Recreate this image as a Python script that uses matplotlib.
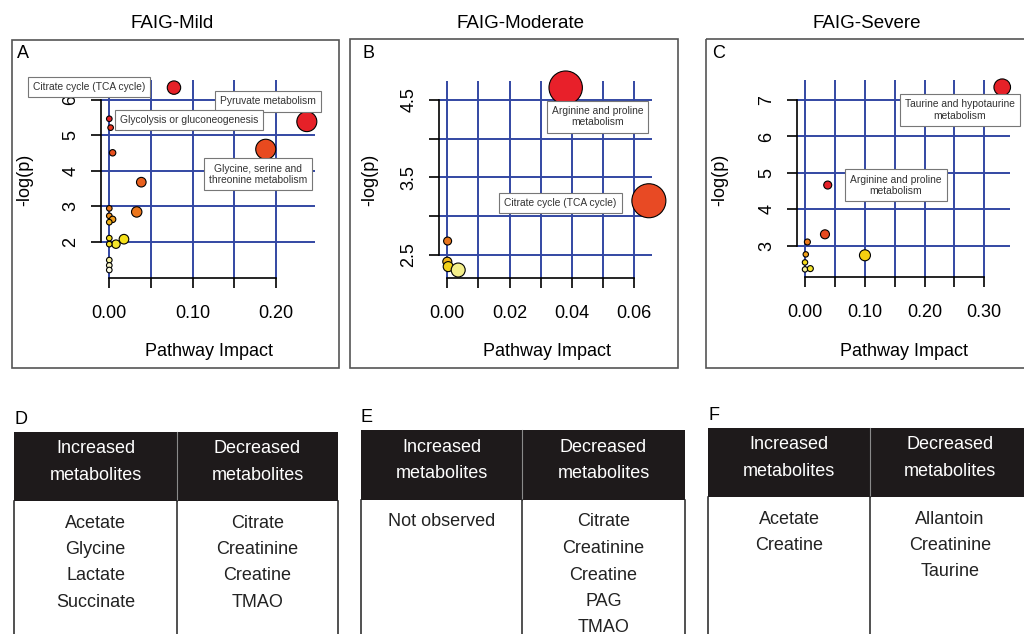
import matplotlib
matplotlib.use('Agg')
import matplotlib.pyplot as plt
from matplotlib import font_manager
from matplotlib.patches import Rectangle

W, H = 1024, 634
plt.rcParams['font.family'] = ['Liberation Sans', 'DejaVu Sans']
_names = {f.name for f in font_manager.fontManager.ttflist}
HAS_NARROW = 'Liberation Sans Narrow' in _names
NARROW = ['Liberation Sans Narrow', 'Liberation Sans'] if HAS_NARROW else ['Liberation Sans']
TSIZE = 14 if HAS_NARROW else 13
GRID = '#3347a3'

# ---- data: panel A (FAIG-Mild)
impact_a = [0.0776, 0.237, 0.1877, 0.0384, 0.0329, 0.0176, 0.008, 0.0, 0.0016, 0.004,
            0.0, 0.0, 0.004, 0.0, 0.0, 0.0, 0.0, 0.0, 0.0]
logp_a = [6.35, 5.39, 4.61, 3.68, 2.84, 2.07, 1.93, 5.47, 5.22, 4.51,
          2.94, 2.73, 2.63, 2.55, 2.10, 1.93, 1.48, 1.33, 1.20]
radius_a = [6.7, 10, 10, 4.8, 5.2, 4.8, 4.2, 2.8, 2.8, 3.2, 2.8, 2.8, 3.2, 2.8, 2.8, 2.8, 2.8, 2.8, 2.8]
color_a = ['#e62128', '#e62128', '#e84a1f', '#e8601e', '#ec761c', '#f5e01a', '#f5e62c', '#e62128',
           '#e8351f', '#e8501e', '#ec7a1c', '#ef8f1a', '#f09a1a', '#f2b41a', '#f5dc18', '#f5e020',
           '#f7f2a0', '#fbf8d0', '#fdfce8']
notes_a = [('Citrate cycle (TCA cycle)', -0.0244, 6.37),
           ('Pyruvate metabolism', 0.1904, 5.96),
           ('Glycolysis or gluconeogenesis', 0.0956, 5.44),
           ('Glycine, serine and\nthreonine metabolism', 0.1785, 3.90)]

# ---- data: panel B (FAIG-Moderate)
impact_b = [0.038, 0.0647, 0.0001, 0.0, 0.0003, 0.0035]
logp_b = [4.659, 3.20, 2.68, 2.414, 2.35, 2.306]
radius_b = [16.7, 17, 4, 4.5, 5, 7]
color_b = ['#e8202a', '#e84a24', '#e8751e', '#f0b41a', '#f2d21a', '#f4ef8a']
notes_b = [('Arginine and proline\nmetabolism', 0.0482, 4.285),
           ('Citrate cycle (TCA cycle)', 0.0363, 3.167)]

# ---- data: panel C (FAIG-Severe)
impact_c = [0.330, 0.038, 0.0334, 0.1003, 0.004, 0.0013, 0.0, 0.0, 0.0089]
logp_c = [7.35, 4.67, 3.32, 2.745, 3.11, 2.77, 2.55, 2.36, 2.38]
radius_c = [8.3, 4, 4.5, 5.5, 3, 2.7, 2.7, 2.7, 3]
color_c = ['#e62128', '#e62128', '#e84a1f', '#f5d010', '#ec7a1c', '#f0a01a', '#f5dc18',
           '#f7f2a0', '#f5e62c']
notes_c = [('Taurine and hypotaurine\nmetabolism', 0.259, 6.73),
           ('Arginine and proline\nmetabolism', 0.152, 4.66)]

# ---- data: tables
inc_d = ['Acetate', 'Glycine', 'Lactate', 'Succinate']
dec_d = ['Citrate', 'Creatinine', 'Creatine', 'TMAO']
inc_e = ['Not observed']
dec_e = ['Citrate', 'Creatinine', 'Creatine', 'PAG', 'TMAO']
inc_f = ['Acetate', 'Creatine']
dec_f = ['Allantoin', 'Creatinine', 'Taurine']

fig = plt.figure(figsize=(W / 100, H / 100), dpi=100)
ov = fig.add_axes([0, 0, 1, 1])
ov.set_xlim(0, W)
ov.set_ylim(H, 0)
ov.axis('off')


def px_axes(l, t, r, b):
    return fig.add_axes([l / W, 1 - b / H, (r - l) / W, (b - t) / H])


def bubble_panel(box, xlim, ylim, xticks, xlabels, yticks, ylabels, xs, ys, rs, cs, notes):
    ax = px_axes(*box)
    ax.set_facecolor('none')
    ax.set_xlim(xlim)
    ax.set_ylim(ylim)
    ax.spines['top'].set_visible(False)
    ax.spines['right'].set_visible(False)
    for s in ('left', 'bottom'):
        ax.spines[s].set_linewidth(1.2)
    ax.spines['left'].set_bounds(yticks[0], yticks[-1])
    ax.spines['bottom'].set_bounds(xticks[0], xticks[-1])
    ax.set_xticks(xticks)
    ax.set_xticklabels(xlabels)
    ax.set_yticks(yticks)
    ax.set_yticklabels(ylabels, rotation=90, va='center')
    ax.grid(True, color=GRID, lw=1.4)
    ax.set_axisbelow(True)
    ax.tick_params(direction='out', length=7.5, width=1.2, labelsize=13)
    ax.tick_params(axis='x', pad=12)
    ax.tick_params(axis='y', pad=8)
    ax.scatter(xs, ys, s=[(2 * r * 0.72) ** 2 for r in rs], c=cs, edgecolors='black',
               linewidths=0.8, zorder=3, clip_on=False)
    for txt, x, y in notes:
        ax.text(x, y, txt, ha='center', va='center', fontsize=7.4, color='#333333',
                linespacing=1.2, zorder=4, clip_on=False,
                bbox=dict(boxstyle='square,pad=0.5', fc='white', ec='#777777', lw=0.8))
    return ax


# panel frames
for l, t, r, b in [(12, 40, 339, 368), (350, 39, 678, 368), (706, 39, 1030, 368)]:
    ov.add_patch(Rectangle((l, t), r - l, b - t, fill=False, ec='#555555', lw=1.2))

bubble_panel((100.7, 80, 315, 278.3), (-0.0103, 0.2468), (0.966, 6.565),
             [0, 0.05, 0.1, 0.15, 0.2], ['0.00', '', '0.10', '', '0.20'],
             [2, 3, 4, 5, 6], ['2', '3', '4', '5', '6'],
             impact_a, logp_a, radius_a, color_a, notes_a)
bubble_panel((439, 80.7, 652.3, 277.7), (-0.00266, 0.0658), (2.207, 4.749),
             [0, 0.01, 0.02, 0.03, 0.04, 0.05, 0.06], ['0.00', '', '0.02', '', '0.04', '', '0.06'],
             [2.5, 3.0, 3.5, 4.0, 4.5], ['2.5', '', '3.5', '', '4.5'],
             impact_b, logp_b, radius_b, color_b, notes_b)
bubble_panel((796.7, 80, 1010, 277.3), (-0.0139, 0.343), (2.142, 7.548),
             [0, 0.05, 0.1, 0.15, 0.2, 0.25, 0.3], ['0.00', '', '0.10', '', '0.20', '', '0.30'],
             [3, 4, 5, 6, 7], ['3', '4', '5', '6', '7'],
             impact_c, logp_c, radius_c, color_c, notes_c)

# titles, letters, axis labels
for txt, x in [('FAIG-Mild', 172), ('FAIG-Moderate', 520), ('FAIG-Severe', 867)]:
    ov.text(x, 23, txt, ha='center', va='center', fontsize=13.5, family=NARROW)
for txt, x in [('A', 17), ('B', 362), ('C', 712)]:
    ov.text(x, 54, txt, ha='left', va='center', fontsize=13)
for x in [25, 370, 720]:
    ov.text(x, 180, '-log(p)', ha='center', va='center', rotation=90, fontsize=13)
for x in [209, 547, 904]:
    ov.text(x, 352, 'Pathway Impact', ha='center', va='center', fontsize=13)


def table_panel(letter, l, mid, r, top, hb, left_items, right_items):
    ov.text(l, top - 13, letter, ha='left', va='center', fontsize=TSIZE, family=NARROW)
    ov.add_patch(Rectangle((l, top), r - l, hb - top, fc='#1e1a1b', ec='none'))
    ov.plot([mid, mid], [top, hb], color='#8a8a8a', lw=0.8)
    for x in (l, mid, r):
        ov.plot([x, x], [hb, H + 5], color='#222222', lw=1.1, clip_on=False)
    for cx, head in [((l + mid) / 2, 'Increased'), ((mid + r) / 2, 'Decreased')]:
        ov.text(cx, (top + hb) / 2 - 18, head, ha='center', va='center', color='white',
                fontsize=TSIZE, family=NARROW)
        ov.text(cx, (top + hb) / 2 + 9, 'metabolites', ha='center', va='center', color='white',
                fontsize=TSIZE, family=NARROW)
    for cx, items in [((l + mid) / 2, left_items), ((mid + r) / 2, right_items)]:
        for i, item in enumerate(items):
            ov.text(cx, hb + 22 + i * 26.5, item, ha='center', va='center',
                    fontsize=TSIZE, family=NARROW, color='#222222')


table_panel('D', 14, 177, 338, 432, 501, inc_d, dec_d)
table_panel('E', 361, 522, 685, 430, 500, inc_e, dec_e)
table_panel('F', 708, 870, 1030, 428, 497, inc_f, dec_f)

fig.savefig('out.png', dpi=100)
